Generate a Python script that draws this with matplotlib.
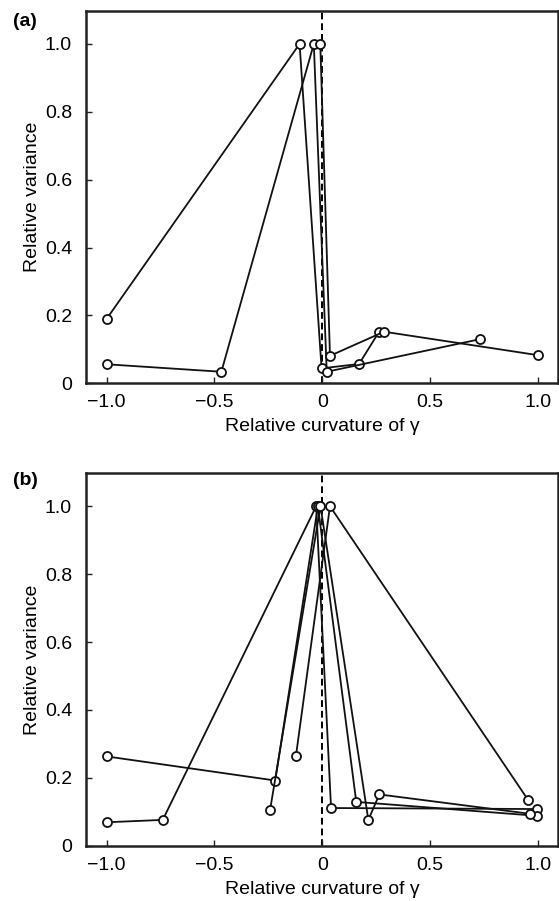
import matplotlib
matplotlib.use("Agg")
import matplotlib.pyplot as plt

plt.rcParams['font.family'] = ['Liberation Sans', 'DejaVu Sans']

# ---- Panel (a) data ----
a1_x = [-1.0, -0.105, -0.003, 0.171, 0.264]
a1_y = [0.19, 1.0, 0.044, 0.057, 0.152]
a2_x = [-1.0, -0.468, -0.039, 0.021, 0.732]
a2_y = [0.056, 0.034, 1.0, 0.034, 0.130]
a3_x = [-0.009, 0.036, 0.287, 1.0]
a3_y = [1.0, 0.081, 0.152, 0.083]

# ---- Panel (b) data ----
b1_x = [-1.0, -0.740, -0.028, 0.041, 0.998]
b1_y = [0.069, 0.076, 1.0, 0.111, 0.108]
b2_x = [-1.0, -0.218, -0.020, 0.158, 0.998]
b2_y = [0.263, 0.192, 1.0, 0.129, 0.088]
b3_x = [-0.242, -0.008, 0.214, 0.265, 0.964]
b3_y = [0.105, 1.0, 0.076, 0.151, 0.094]
b4_x = [-0.122, 0.036, 0.954]
b4_y = [0.264, 1.0, 0.136]

xticks = [-1.0, -0.5, 0.0, 0.5, 1.0]
xticklabels = ['\u22121.0', '\u22120.5', '0', '0.5', '1.0']
yticks = [0.0, 0.2, 0.4, 0.6, 0.8, 1.0]
yticklabels = ['0', '0.2', '0.4', '0.6', '0.8', '1.0']

panels = [
    ('(a)', [(a1_x, a1_y), (a2_x, a2_y), (a3_x, a3_y)]),
    ('(b)', [(b1_x, b1_y), (b2_x, b2_y), (b3_x, b3_y), (b4_x, b4_y)]),
]

fig = plt.figure(figsize=(5.59, 9.01), dpi=100)
W, H = 559.0, 901.0
axes_px = [(86, 11, 472, 372.3), (86, 473.3, 472, 372.4)]
label_pos = [(13, 21), (13, 480)]

for (lab, series), (l, t, w, h), (lx, ly) in zip(panels, axes_px, label_pos):
    ax = fig.add_axes([l / W, 1 - (t + h) / H, w / W, h / H])
    ax.axvline(0, color='black', lw=1.4, ls=(0, (3.5, 2)), zorder=1)
    for xs, ys in series:
        ax.plot(xs, ys, color='#111111', lw=1.3, marker='o', ms=6.5,
                mfc='white', mec='#111111', mew=1.3, zorder=3)
    ax.set_xlim(-1.096, 1.094)
    ax.set_ylim(0, 1.097)
    ax.set_xticks(xticks)
    ax.set_xticklabels(xticklabels)
    ax.set_yticks(yticks)
    ax.set_yticklabels(yticklabels)
    ax.tick_params(direction='in', length=4, width=1, labelsize=14,
                   colors='#222222', labelcolor='black')
    ax.tick_params(axis='x', pad=8)
    ax.tick_params(axis='y', pad=10)
    for s in ax.spines.values():
        s.set_linewidth(1.8)
        s.set_color('#222222')
    ax.set_xlabel('Relative curvature of \u03b3', fontsize=14, labelpad=5)
    ax.set_ylabel('Relative variance', fontsize=14, labelpad=3)
    fig.text(lx / W, 1 - ly / H, lab, fontsize=14, fontweight='bold',
             ha='left', va='center')

fig.savefig('out.png', dpi=100)
